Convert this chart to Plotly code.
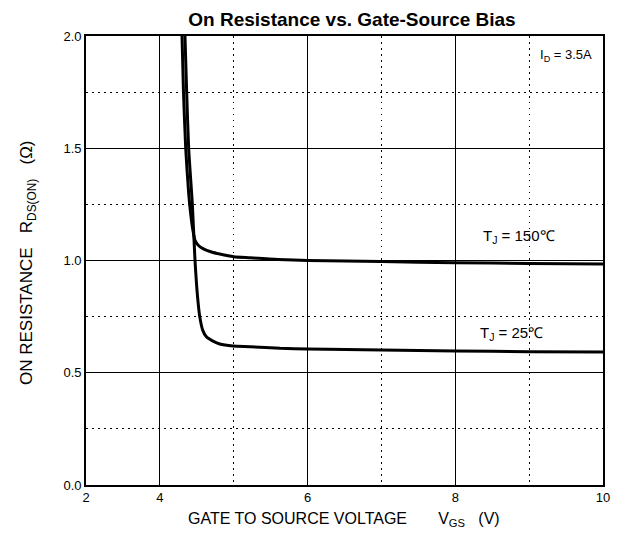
import plotly.graph_objects as go

# Data
vgs_150 = [4.30, 4.32, 4.35, 4.39, 4.42, 4.45, 4.476, 4.52, 4.59, 4.70, 4.81, 5.0, 5.22, 5.6, 6.0, 7.0, 8.0, 9.0, 10.0]
rds_150 = [2.00, 1.75, 1.50, 1.30, 1.20, 1.13, 1.09, 1.068, 1.052, 1.038, 1.029, 1.017, 1.012, 1.004, 1.000, 0.995, 0.990, 0.987, 0.984]

vgs_25 = [4.34, 4.363, 4.39, 4.43, 4.44, 4.476, 4.51, 4.54, 4.58, 4.63, 4.72, 4.81, 4.99, 5.22, 5.63, 6.0, 7.0, 8.0, 9.0, 10.0]
rds_25 = [2.00, 1.75, 1.50, 1.30, 1.25, 1.00, 0.84, 0.75, 0.69, 0.66, 0.641, 0.628, 0.619, 0.616, 0.609, 0.606, 0.601, 0.597, 0.594, 0.592]

x_tickvals = [3, 4, 6, 8, 10]
x_ticktext = ["2", "4", "6", "8", "10"]
x_minor = [5, 7, 9]
y_tickvals = [0, 0.5, 1.0, 1.5, 2.0]
y_ticktext = ["0.0", "0.5", "1.0", "1.5", "2.0"]
y_minor = [0.25, 0.75, 1.25, 1.75]

FONT = "Liberation Sans, Arial, sans-serif"

# plot box in page pixels (page has an 8px body margin)
PL, PR, PT, PB = 86, 603, 36, 485


def px(X):
    return (X - PL) / (PR - PL)


def py(Y):
    return (PB - Y) / (PB - PT)


fig = go.Figure()
for xs, ys in ((vgs_150, rds_150), (vgs_25, rds_25)):
    fig.add_trace(go.Scatter(x=xs, y=ys, mode="lines",
                             line=dict(color="black", width=3, shape="spline", smoothing=0.6),
                             showlegend=False, hoverinfo="skip"))

dot = "1.5px,4.5px"
fig.update_layout(
    width=627, height=541,
    margin=dict(l=PL - 8, r=627 + 8 - PR, t=PT - 8, b=541 + 8 - PB),
    paper_bgcolor="white", plot_bgcolor="white",
    font=dict(family=FONT, color="black", size=13),
    title=dict(text="<b>On Resistance vs. Gate-Source Bias</b>",
               font=dict(size=19, family=FONT, color="black"),
               x=px(352), xref="paper", y=1 - 11 / 541, yref="container",
               xanchor="center", yanchor="middle"),
    xaxis=dict(range=[3, 10], tickvals=x_tickvals, ticktext=x_ticktext,
               showgrid=True, gridcolor="black", gridwidth=1.2,
               showline=True, linecolor="black", linewidth=1.6, mirror=True,
               zeroline=False, ticks="", tickfont=dict(size=13),
               minor=dict(tickvals=x_minor, showgrid=True, gridcolor="black",
                          gridwidth=1.2, griddash=dot, ticks="")),
    yaxis=dict(range=[0, 2], tickvals=y_tickvals, ticktext=y_ticktext,
               showgrid=True, gridcolor="black", gridwidth=1.2,
               showline=True, linecolor="black", linewidth=1.6, mirror=True,
               zeroline=False, ticks="", tickfont=dict(size=13),
               minor=dict(tickvals=y_minor, showgrid=True, gridcolor="black",
                          gridwidth=1.2, griddash=dot, ticks="")),
)

annots = [
    dict(text="GATE TO SOURCE VOLTAGE       V<sub>GS</sub>   (V)", x=px(344), y=py(519),
         xanchor="center", yanchor="middle", font=dict(size=16)),
    dict(text="ON RESISTANCE   R<sub>DS(ON)</sub>   (Ω)", x=px(28), y=py(263),
         xanchor="center", yanchor="middle", textangle=-90, font=dict(size=17)),
    dict(text="I<sub>D</sub> = 3.5A", x=px(538), y=py(56),
         xanchor="left", yanchor="middle", font=dict(size=13)),
    dict(text="T<sub>J</sub> = 150℃", x=px(481), y=py(236),
         xanchor="left", yanchor="middle", font=dict(size=15)),
    dict(text="T<sub>J</sub> = 25℃", x=px(478), y=py(333),
         xanchor="left", yanchor="middle", font=dict(size=15)),
]
for a in annots:
    a.update(xref="paper", yref="paper", showarrow=False)
fig.update_layout(annotations=annots)

fig.write_html("out.html")
